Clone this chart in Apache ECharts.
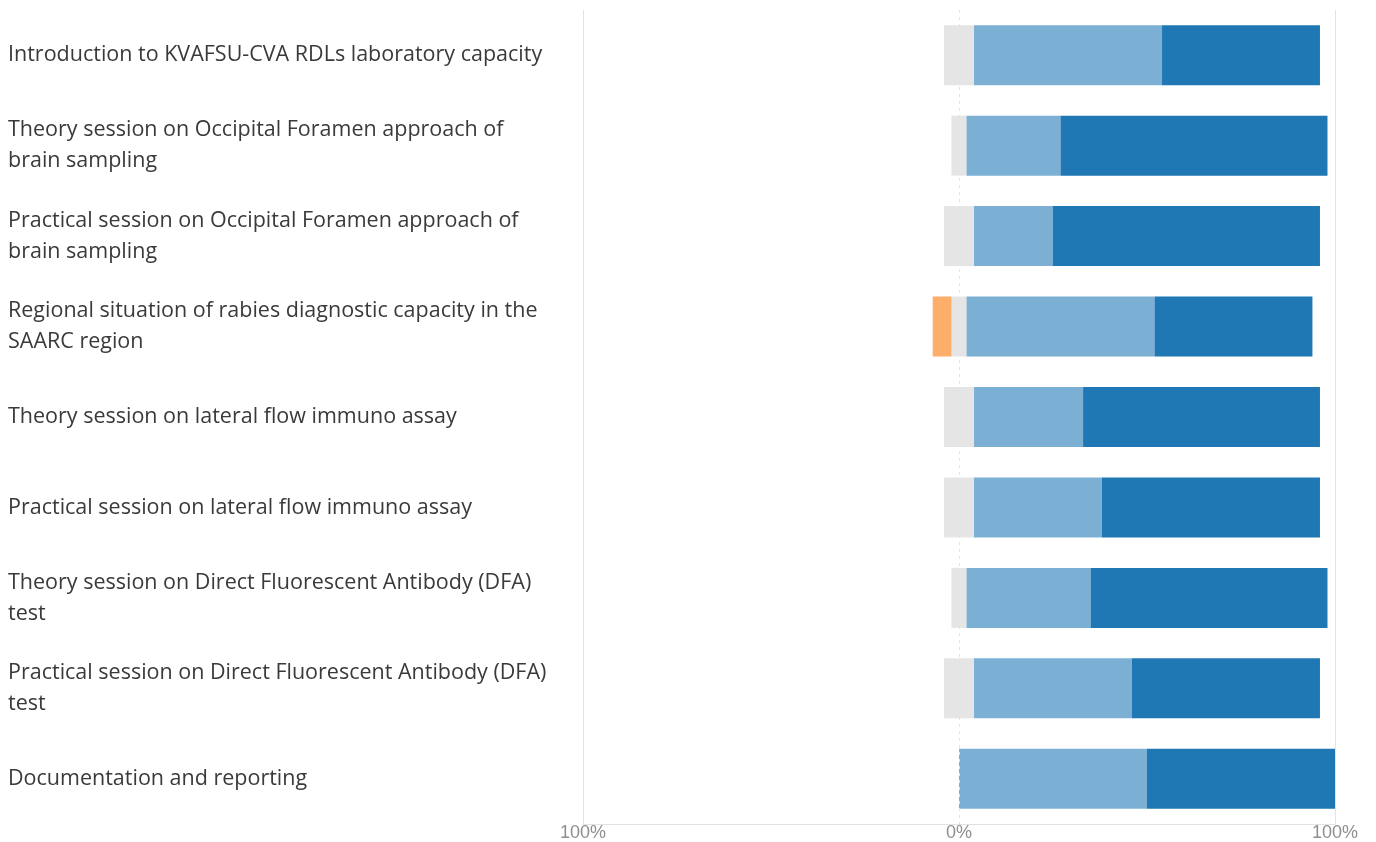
<!DOCTYPE html>
<html>
<head>
<meta charset="utf-8">
<script src="https://cdn.jsdelivr.net/npm/echarts@6/dist/echarts.min.js"></script>
<style>
  html, body { margin: 0; padding: 0; background: #fff; }
  #main { width: 1376px; height: 842px; }
</style>
</head>
<body>
<div id="main"></div>
<script>
var chartDom = document.getElementById('main');
var myChart = echarts.init(chartDom);
var option;

// sessions, top to bottom
var sessions = [
    'Introduction to KVAFSU-CVA RDLs laboratory capacity',
    'Theory session on Occipital Foramen approach of\nbrain sampling',
    'Practical session on Occipital Foramen approach of\nbrain sampling',
    'Regional situation of rabies diagnostic capacity in the\nSAARC region',
    'Theory session on lateral flow immuno assay',
    'Practical session on lateral flow immuno assay',
    'Theory session on Direct Fluorescent Antibody (DFA)\ntest',
    'Practical session on Direct Fluorescent Antibody (DFA)\ntest',
    'Documentation and reporting'
];

// percentages of answers
var disagree = [0, 0, 0, 5, 0, 0, 0, 0, 0];
var neutral = [8, 4, 8, 4, 8, 8, 4, 8, 0];
var agree = [50, 25, 21, 50, 29, 34, 33, 42, 50];
var stronglyAgree = [42, 71, 71, 42, 63, 58, 63, 50, 50];

var axisTicks = [-100, 0, 100];

// neutral is split half on each side of zero
var neutralLeft = neutral.map(function (v) { return -v / 2; });
var neutralRight = neutral.map(function (v) { return v / 2; });
var disagreeLeft = disagree.map(function (v) { return -v; });

var barW = 60;

option = {
    animation: false,
    grid: {
        left: 583,
        right: 41,
        top: 10,
        bottom: 17,
        containLabel: false
    },
    xAxis: {
        type: 'value',
        min: axisTicks[0],
        max: axisTicks[2],
        interval: 100,
        axisLine: { show: true, lineStyle: { color: '#e3e3e3' } },
        axisTick: { show: false },
        splitLine: { show: false },
        axisLabel: {
            margin: 0,
            color: '#8f8f8f',
            fontSize: 18,
            fontFamily: 'Liberation Sans Narrow, Liberation Sans, Arial, sans-serif',
            formatter: function (v) { return Math.abs(v) + '%'; }
        }
    },
    yAxis: {
        type: 'category',
        inverse: true,
        data: sessions,
        axisLine: { show: false },
        axisTick: { show: false },
        axisLabel: {
            align: 'left',
            margin: 575,
            color: '#3a3a3a',
            fontSize: 21.5,
            lineHeight: 31,
            fontFamily: 'Open Sans, Noto Sans, sans-serif'
        }
    },
    series: [
        {
            type: 'line',
            data: [],
            z: 1,
            silent: true,
            markLine: {
                silent: true,
                symbol: 'none',
                label: { show: false },
                data: [
                    { xAxis: axisTicks[0], lineStyle: { color: '#e3e3e3', type: 'solid', width: 1 } },
                    { xAxis: axisTicks[1], lineStyle: { color: '#e3e3e3', type: [3, 4], width: 1 } },
                    { xAxis: axisTicks[2], lineStyle: { color: '#e3e3e3', type: 'solid', width: 1 } }
                ]
            }
        },
        {
            name: 'Neutral',
            type: 'bar',
            stack: 'total',
            barWidth: barW,
            z: 2,
            itemStyle: { color: '#e5e5e5' },
            data: neutralLeft
        },
        {
            name: 'Disagree',
            type: 'bar',
            stack: 'total',
            barWidth: barW,
            z: 2,
            itemStyle: { color: '#fdae6b' },
            data: disagreeLeft
        },
        {
            name: 'Neutral ',
            type: 'bar',
            stack: 'total',
            barWidth: barW,
            z: 2,
            itemStyle: { color: '#e5e5e5' },
            data: neutralRight
        },
        {
            name: 'Agree',
            type: 'bar',
            stack: 'total',
            barWidth: barW,
            z: 2,
            itemStyle: { color: '#7bafd4' },
            data: agree
        },
        {
            name: 'Strongly agree',
            type: 'bar',
            stack: 'total',
            barWidth: barW,
            z: 2,
            itemStyle: { color: '#1f77b4' },
            data: stronglyAgree
        }
    ]
};

option && myChart.setOption(option);
</script>
</body>
</html>
